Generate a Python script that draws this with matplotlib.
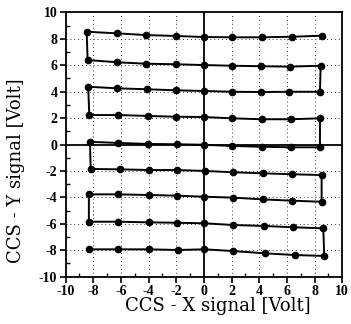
import numpy as np
import matplotlib
matplotlib.use('Agg')
import matplotlib.pyplot as plt
from matplotlib.ticker import MultipleLocator

# scan rows, in the order the beam travels (serpentine)
row_a_x = [8.51, 6.34, 4.17, 2.05, 0.0, -2.02, -4.22, -6.31, -8.48]
row_a_y = [8.23, 8.15, 8.11, 8.11, 8.13, 8.21, 8.28, 8.41, 8.53]
row_b_x = [-8.41, -6.27, -4.17, -2.02, 0.0, 2.05, 4.12, 6.22, 8.44]
row_b_y = [6.39, 6.22, 6.11, 6.07, 6.01, 5.96, 5.92, 5.89, 5.96]
row_c_x = [8.39, 6.17, 4.12, 2.05, 0.0, -2.04, -4.15, -6.27, -8.37]
row_c_y = [3.99, 3.99, 3.97, 3.99, 4.05, 4.10, 4.18, 4.25, 4.37]
row_d_x = [-8.29, -6.2, -4.07, -2.02, 0.0, 2.05, 4.17, 6.27, 8.39]
row_d_y = [2.23, 2.23, 2.16, 2.10, 2.08, 1.98, 1.91, 1.91, 1.98]
row_e_x = [8.39, 6.27, 4.17, 2.05, 0.0, -1.97, -4.07, -6.2, -8.24]
row_e_y = [-0.21, -0.21, -0.17, -0.11, -0.02, 0.02, 0.04, 0.12, 0.2]
row_f_x = [-8.19, -6.07, -3.95, -1.97, 0.05, 2.12, 4.24, 6.34, 8.51]
row_f_y = [-1.85, -1.88, -1.93, -1.93, -2.0, -2.1, -2.18, -2.25, -2.31]
row_g_x = [8.51, 6.34, 4.24, 2.12, 0.03, -1.97, -3.98, -6.2, -8.32]
row_g_y = [-4.33, -4.25, -4.15, -4.02, -3.95, -3.87, -3.82, -3.77, -3.77]
row_h_x = [-8.32, -6.2, -3.98, -1.97, 0.03, 2.12, 4.31, 6.41, 8.63]
row_h_y = [-5.84, -5.84, -5.89, -5.92, -5.96, -6.09, -6.16, -6.26, -6.34]
row_i_x = [8.7, 6.55, 4.38, 2.12, 0.03, -1.9, -3.98, -6.24, -8.32]
row_i_y = [-8.43, -8.36, -8.23, -8.06, -7.93, -7.98, -7.93, -7.93, -7.93]

ticks = [-10, -8, -6, -4, -2, 0, 2, 4, 6, 8, 10]

xs = row_a_x + row_b_x + row_c_x + row_d_x + row_e_x + row_f_x + row_g_x + row_h_x + row_i_x
ys = row_a_y + row_b_y + row_c_y + row_d_y + row_e_y + row_f_y + row_g_y + row_h_y + row_i_y

plt.rcParams['font.family'] = ['Liberation Serif', 'DejaVu Serif']
plt.rcParams['axes.unicode_minus'] = False

fig = plt.figure(figsize=(3.51, 3.24), dpi=100)
ax = fig.add_axes([0.187, 0.146, 0.788, 0.816])

# dotted grid at the major ticks (but not through zero)
for t in ticks[1:-1]:
    if t == 0:
        continue
    ax.axvline(t, color='#333333', linestyle=(0, (1, 3)), linewidth=0.7, zorder=1)
    ax.axhline(t, color='#333333', linestyle=(0, (1, 3)), linewidth=0.7, zorder=1)
ax.axvline(0, color='black', linewidth=1.3, zorder=2)
ax.axhline(0, color='black', linewidth=1.3, zorder=2)

ax.plot(xs, ys, color='black', linewidth=1.4, marker='o', markersize=4.5, zorder=3)

ax.set_xlim(-10, 10)
ax.set_ylim(-10, 10)
ax.set_xticks(ticks)
ax.set_yticks(ticks)
ax.xaxis.set_minor_locator(MultipleLocator(1))
ax.yaxis.set_minor_locator(MultipleLocator(1))
ax.tick_params(which='major', direction='out', length=4, width=1.2, labelsize=10, pad=2)
ax.tick_params(which='minor', direction='in', length=3, width=1.0)
for lab in ax.get_xticklabels() + ax.get_yticklabels():
    lab.set_fontweight('bold')
for sp in ax.spines.values():
    sp.set_linewidth(1.3)

ax.set_xlabel('CCS - X signal [Volt]', fontsize=13, family='DejaVu Serif')
ax.set_ylabel('CCS - Y signal [Volt]', fontsize=13, family='DejaVu Serif')
ax.xaxis.set_label_coords(0.55, -0.11)
ax.yaxis.set_label_coords(-0.18, 0.40)
ax.xaxis.label.set_va('center')
ax.yaxis.label.set_va('center')

plt.savefig('out.png', dpi=100)
